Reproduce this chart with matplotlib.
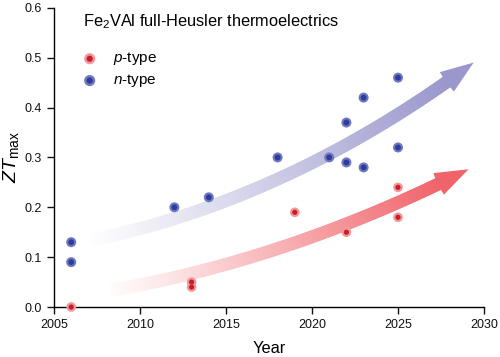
import matplotlib

matplotlib.use("Agg")
import matplotlib.pyplot as plt  # noqa: E402
import numpy as np  # noqa: E402
from matplotlib.collections import PolyCollection  # noqa: E402
from matplotlib.patches import Polygon  # noqa: E402
from matplotlib.transforms import IdentityTransform  # noqa: E402

plt.rcParams["font.family"] = ["Liberation Sans", "DejaVu Sans"]
plt.rcParams["mathtext.fontset"] = "custom"
plt.rcParams["mathtext.rm"] = "Liberation Sans"
plt.rcParams["mathtext.it"] = "Liberation Sans:italic"

# reported ZT_max values
p_year = [2006, 2013, 2013, 2019, 2022, 2025, 2025]
p_zt = [0.00, 0.05, 0.04, 0.19, 0.15, 0.24, 0.18]
n_year = [2006, 2006, 2012, 2014, 2018, 2021, 2022, 2022, 2023, 2023, 2025, 2025]
n_zt = [0.13, 0.09, 0.20, 0.22, 0.30, 0.30, 0.37, 0.29, 0.42, 0.28, 0.46, 0.32]

# trend-arrow guide points (tail ... tip)
n_trend_x = [2007.2, 2014.1, 2019.3, 2024.0, 2029.4]
n_trend_y = [0.134, 0.203, 0.275, 0.367, 0.490]
p_trend_x = [2008.3, 2014.1, 2019.3, 2024.0, 2029.1]
p_trend_y = [0.030, 0.086, 0.128, 0.191, 0.279]

BLUE_C, BLUE_H, BLUE_A = "#2e3d9c", "#7078c2", "#9a97cc"
RED_C, RED_H, RED_A = "#c41f2a", "#f2989b", "#f0636a"


def gradient_arrow(ax, xs, ys, color, deg=2, width_px=12, head_len=34, head_w=24):
    coef = np.polyfit(xs, ys, deg)
    xx = np.linspace(xs[0], xs[-1], 300)
    pts = ax.transData.transform(np.column_stack([xx, np.polyval(coef, xx)]))
    seg_len = np.hypot(*np.diff(pts, axis=0).T)
    remaining = np.concatenate([np.cumsum(seg_len[::-1])[::-1], [0.0]])
    k = np.searchsorted(-remaining, -head_len)
    shaft = pts[: k + 1]
    tip = pts[-1]
    base = shaft[-1]
    d = (tip - base) / np.hypot(*(tip - base))
    perp = np.array([-d[1], d[0]])

    # normals along the shaft
    tang = np.gradient(shaft, axis=0)
    tang /= np.hypot(*tang.T)[:, None]
    nrm = np.column_stack([-tang[:, 1], tang[:, 0]]) * width_px / 2
    up, lo = shaft + nrm, shaft - nrm
    quads = [[up[i], up[i + 1], lo[i + 1], lo[i]] for i in range(len(shaft) - 1)]

    rgb = np.array(matplotlib.colors.to_rgb(color))
    t = np.linspace(0, 1, len(quads))
    w = 0.02 + 0.98 * t ** 1.1
    cols = (1 - w)[:, None] + w[:, None] * rgb
    pc = PolyCollection(quads, facecolors=cols, edgecolors=cols, linewidths=0.6,
                        transform=IdentityTransform(), zorder=1)
    ax.add_collection(pc)
    head = Polygon([base + perp * head_w / 2, tip, base - perp * head_w / 2,
                    base - d * 1.0],
                   closed=True, facecolor=color, edgecolor="none",
                   transform=IdentityTransform(), zorder=1)
    ax.add_patch(head)


fig = plt.figure(figsize=(5, 3.57), dpi=100)
ax = fig.add_axes([0.108, 0.14, 0.86, 0.838])
ax.set_xlim(2005, 2030)
ax.set_ylim(0, 0.6)

gradient_arrow(ax, n_trend_x, n_trend_y, BLUE_A, deg=3)
gradient_arrow(ax, p_trend_x, p_trend_y, RED_A, deg=2)

ax.scatter(n_year, n_zt, s=52, color=BLUE_H, edgecolors="none", zorder=3, clip_on=False)
ax.scatter(n_year, n_zt, s=18, color=BLUE_C, edgecolors="none", zorder=4, clip_on=False)
ax.scatter(p_year, p_zt, s=48, color=RED_H, edgecolors="none", zorder=3, clip_on=False)
ax.scatter(p_year, p_zt, s=14, color=RED_C, edgecolors="none", zorder=4, clip_on=False)

ax.spines[["top", "right"]].set_visible(False)
ax.spines[["left", "bottom"]].set_linewidth(1.0)
ax.set_xticks(np.arange(2005, 2031, 5))
ax.set_yticks(np.arange(0, 0.61, 0.1))
ax.set_yticklabels([f"{v:.1f}" for v in np.arange(0, 0.61, 0.1)])
ax.tick_params(direction="out", length=5, width=1.0, labelsize=9, colors="#111111")
ax.set_xlabel("Year", fontsize=11.8, labelpad=7)
ax.set_ylabel(r"$ZT_{\mathrm{max}}$", fontsize=14, labelpad=3)

ax.text(0.068, 0.955, r"Fe$_2$VAl full-Heusler thermoelectrics", transform=ax.transAxes,
        fontsize=11.8, va="center", ha="left")
for yy, hc, cc, lab in [(0.83, RED_H, RED_C, "p"), (0.757, BLUE_H, BLUE_C, "n")]:
    ax.scatter([0.083], [yy], s=64, color=hc, edgecolors="none", transform=ax.transAxes,
               clip_on=False, zorder=5)
    ax.scatter([0.083], [yy], s=20, color=cc, edgecolors="none", transform=ax.transAxes,
               clip_on=False, zorder=6)
    ax.text(0.137, yy, rf"${lab}$-type", transform=ax.transAxes, fontsize=11,
            va="center", ha="left")

fig.savefig("out.png", dpi=100)
